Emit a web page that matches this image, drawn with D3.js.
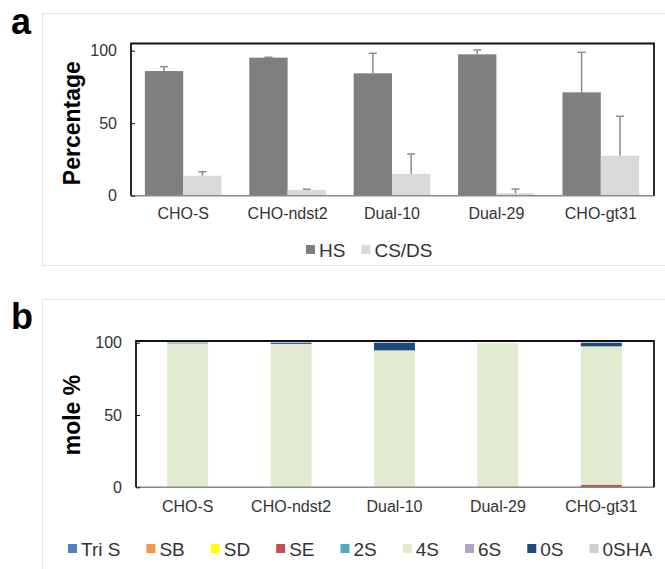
<!DOCTYPE html>
<html>
<head>
<meta charset="utf-8">
<script src="https://cdn.jsdelivr.net/npm/d3@7"></script>
<style>
    body { margin: 0; background: #fff; }
    svg { display: block; font-family: "Liberation Sans", Arial, sans-serif; }
</style>
</head>
<body>
<div id="chart"></div>
<script>
// cell lines
let cellLines = ["CHO-S", "CHO-ndst2", "Dual-10", "Dual-29", "CHO-gt31"];

// panel a: HS vs CS/DS percentage, with upper error bars
let hsValues = [86, 95.2, 84.4, 97.5, 71.3];
let hsErrors = [3, 0.3, 13.8, 3, 27.6];
let csdsValues = [13.8, 4, 15, 1.7, 27.6];
let csdsErrors = [2.7, 0.5, 13.8, 2.9, 27.2];
let seriesA = ["HS", "CS/DS"];
let colorsA = ["#7f7f7f", "#d9d9d9"];

// panel b: disaccharide composition, mole %
let disaccharides = ["Tri S", "SB", "SD", "SE", "2S", "4S", "6S", "0S", "0SHA"];
let colorsB = ["#4f81bd", "#f79646", "#ffff00", "#c0504d", "#4bacc6", "#e1ebcf", "#b3a2c7", "#1f497d", "#d0d0d0"];
let triS = [0.3, 0.3, 0, 0, 0];
let sb = [0, 0, 0, 0, 0];
let sd = [0, 0, 0, 0, 0];
let se = [0, 0, 0, 0, 1.8];
let twoS = [0, 0, 0, 0, 0];
let fourS = [99.3, 98.9, 94.7, 99.7, 95.7];
let sixS = [0, 0, 0, 0, 0];
let zeroS = [0.4, 0.8, 5.3, 0, 2.5];
let zeroSHA = [0, 0, 0, 0, 0];

let yTicks = [0, 50, 100];

let svg = d3.select("#chart").append("svg")
    .attr("width", 665)
    .attr("height", 569);

// light panel frames
svg.append("rect").attr("x", 42.5).attr("y", 13.5).attr("width", 640).attr("height", 252)
    .attr("fill", "none").attr("stroke", "#e3e3e3");
svg.append("rect").attr("x", 42.5).attr("y", 299.5).attr("width", 640).attr("height", 300)
    .attr("fill", "none").attr("stroke", "#e3e3e3");

svg.append("text").attr("x", 11).attr("y", 34).text("a")
    .attr("font-size", 36).attr("font-weight", "bold");
svg.append("text").attr("x", 11).attr("y", 329).text("b")
    .attr("font-size", 36).attr("font-weight", "bold");

function drawFrame(g, x0, x1, yTop, yZero) {
    g.append("line").attr("x1", x0).attr("x2", x1).attr("y1", yZero).attr("y2", yZero)
        .attr("stroke", "#8a8a8a").attr("stroke-width", 1.5);
    g.append("path")
        .attr("d", `M${x0},${yZero} V${yTop} H${x1} V${yZero}`)
        .attr("fill", "none").attr("stroke", "#111").attr("stroke-width", 1.8);
}

function drawYAxis(g, y, x0, title, titleX) {
    let axis = g.append("g")
        .attr("transform", `translate(${x0},0)`)
        .call(d3.axisLeft(y).tickValues(yTicks).tickSize(-4).tickPadding(14));
    axis.select(".domain").remove();
    axis.selectAll(".tick line").attr("stroke", "#111");
    axis.selectAll(".tick text").attr("font-size", 16).attr("fill", "#333")
        .attr("font-family", "Liberation Sans, Arial, sans-serif");

    let mid = (y.range()[0] + y.range()[1]) / 2;
    g.append("text")
        .attr("transform", `translate(${titleX},${mid}) rotate(-90)`)
        .attr("text-anchor", "middle")
        .attr("font-size", 23).attr("font-weight", "bold")
        .text(title);
}

function drawXLabels(g, x, yPos) {
    g.selectAll(".xlab").data(cellLines).enter().append("text")
        .attr("class", "xlab")
        .attr("x", d => x(d) + x.bandwidth() / 2)
        .attr("y", yPos)
        .attr("text-anchor", "middle")
        .attr("font-size", 16).attr("fill", "#333")
        .text(d => d);
}

function drawLegend(g, names, colors, x0, yBase, gap) {
    let cx = x0;
    names.forEach((n, i) => {
        g.append("rect").attr("x", cx).attr("y", yBase - 12).attr("width", 9).attr("height", 9)
            .attr("fill", colors[i]);
        let t = g.append("text").attr("x", cx + 13).attr("y", yBase)
            .attr("font-size", 19).attr("fill", "#333").text(n);
        cx += 13 + t.node().getComputedTextLength() + gap;
    });
}

// ---------- panel a ----------
let gA = svg.append("g");
let xA = d3.scaleBand().domain(cellLines).range([131, 653]).paddingInner(0.266).paddingOuter(0.133);
let xSubA = d3.scaleBand().domain(seriesA).range([0, xA.bandwidth()]);
let yA = d3.scaleLinear().domain([0, 100]).range([195.7, 50.7]);

let barsA = [];
cellLines.forEach((c, i) => {
    barsA.push({cell: c, series: "HS", value: hsValues[i], err: hsErrors[i]});
    barsA.push({cell: c, series: "CS/DS", value: csdsValues[i], err: csdsErrors[i]});
});

gA.selectAll(".barA").data(barsA).enter().append("rect")
    .attr("class", "barA")
    .attr("x", d => xA(d.cell) + xSubA(d.series))
    .attr("y", d => yA(d.value))
    .attr("width", xSubA.bandwidth())
    .attr("height", d => yA(0) - yA(d.value))
    .attr("fill", d => colorsA[seriesA.indexOf(d.series)]);

let errG = gA.selectAll(".err").data(barsA).enter().append("g").attr("class", "err");
errG.append("line")
    .attr("x1", d => xA(d.cell) + xSubA(d.series) + xSubA.bandwidth() / 2)
    .attr("x2", d => xA(d.cell) + xSubA(d.series) + xSubA.bandwidth() / 2)
    .attr("y1", d => yA(d.value))
    .attr("y2", d => yA(d.value + d.err))
    .attr("stroke", "#8c8c8c").attr("stroke-width", 1.5);
errG.append("line")
    .attr("x1", d => xA(d.cell) + xSubA(d.series) + xSubA.bandwidth() / 2 - 4)
    .attr("x2", d => xA(d.cell) + xSubA(d.series) + xSubA.bandwidth() / 2 + 4)
    .attr("y1", d => yA(d.value + d.err))
    .attr("y2", d => yA(d.value + d.err))
    .attr("stroke", "#8c8c8c").attr("stroke-width", 1.5);

drawFrame(gA, 131, 654, 43.5, yA(0));
drawYAxis(gA, yA, 131, "Percentage", 80);
drawXLabels(gA, xA, 219);
drawLegend(gA, seriesA, colorsA, 306, 257, 16);

// ---------- panel b ----------
let gB = svg.append("g");
let xB = d3.scaleBand().domain(cellLines).range([136, 653]).paddingInner(0.604).paddingOuter(0.302);
let yB = d3.scaleLinear().domain([0, 100]).range([487.3, 342.7]);

let seriesB = [triS, sb, sd, se, twoS, fourS, sixS, zeroS, zeroSHA];
let tableB = cellLines.map((c, i) => {
    let row = {cell: c};
    disaccharides.forEach((k, j) => row[k] = seriesB[j][i]);
    return row;
});
let stacked = d3.stack().keys(disaccharides)(tableB);

gB.selectAll(".layer").data(stacked).enter().append("g")
    .attr("class", "layer")
    .attr("fill", (d, i) => colorsB[i])
    .selectAll("rect").data(d => d).enter().append("rect")
    .attr("x", d => xB(d.data.cell))
    .attr("y", d => yB(d[1]))
    .attr("width", xB.bandwidth())
    .attr("height", d => yB(d[0]) - yB(d[1]));

drawFrame(gB, 136, 654, 341, yB(0));
drawYAxis(gB, yB, 136, "mole %", 80);
drawXLabels(gB, xB, 512);
drawLegend(gB, disaccharides, colorsB, 68, 556, 26);
</script>
</body>
</html>
